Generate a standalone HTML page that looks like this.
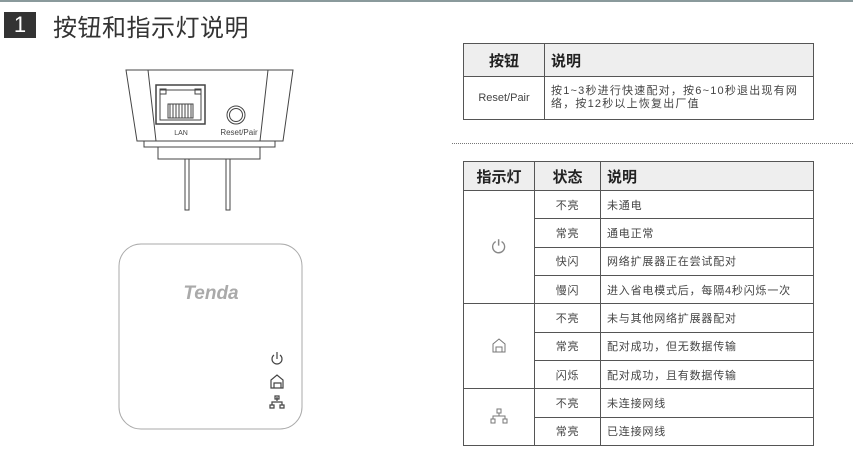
<!DOCTYPE html>
<html><head><meta charset="utf-8"><style>
body{margin:0;width:853px;height:456px;background:#fff;position:relative;overflow:hidden;font-family:"Liberation Sans","Noto Sans CJK SC",sans-serif;color:#333}
.a{position:absolute}
table{position:absolute;border-collapse:collapse;font-size:11px;color:#444;letter-spacing:0.8px}
td,th{border:1.5px solid #555;padding:0}
th{background:#eee;font-size:15px;font-weight:bold;color:#222;text-align:left;letter-spacing:0}
</style></head><body>
<div class="a" style="left:0;top:0;width:853px;height:2px;background:#8a9a9c"></div>
<div class="a" style="left:4px;top:12px;width:32px;height:26px;background:#333;color:#fff;font-size:22px;line-height:26px;text-align:center">1</div>
<div class="a" style="left:53px;top:8px;font-size:24px;color:#333;letter-spacing:0.5px">按钮和指示灯说明</div>

<svg class="a" style="left:0;top:0" width="460" height="456">
<g fill="none" stroke="#444" stroke-width="1">
<path d="M126 70 H293 L283 141 H137 Z"/>
<path d="M148 70 L156 141 M268 70 L260 141"/>
<rect x="156" y="85" width="49" height="39" stroke-width="1.5"/>
<rect x="160" y="90" width="41" height="30"/>
<rect x="160" y="89" width="6" height="5"/><rect x="195" y="89" width="6" height="5"/>
<rect x="168" y="104" width="25" height="14"/>
<path d="M170 104v14M173 104v14M176 104v14M179 104v14M182 104v14M185 104v14M188 104v14M191 104v14"/>
<circle cx="236" cy="115" r="9"/><circle cx="236" cy="115" r="6.5"/>
<rect x="144" y="141" width="131" height="6"/>
<rect x="158" y="147" width="102" height="12"/>
<rect x="185" y="159" width="4" height="51"/><rect x="226" y="159" width="4" height="51"/>
<rect x="119" y="244" width="183" height="185" rx="22" stroke="#aaa"/>
</g>
<text x="181" y="135" font-size="7" text-anchor="middle" fill="#444">LAN</text>
<text x="239" y="135" font-size="8" text-anchor="middle" fill="#444">Reset/Pair</text>
<text x="211" y="299" font-size="19" font-weight="bold" font-style="italic" text-anchor="middle" fill="#aaa">Tenda</text>
<g fill="none" stroke="#444" stroke-width="1.2">
<path d="M274 355 a5 5 0 1 0 6 0 M277 352 v7"/>
<path d="M271 388 v-8 l6-5 6 5 v8 Z M274 388 v-5 h7 v5"/>
<path d="M277 397 v4 M272 405 v-3 h10 v3 M270 405h4v3h-4z M280 405h4v3h-4z M275 396h4v3h-4z"/>
</g>
</svg>

<table style="left:463px;top:43px;width:351px;height:77px">
<tr style="height:33px"><th style="width:80px;text-align:center">按钮</th><th style="padding-left:6px">说明</th></tr>
<tr><td style="text-align:center;font-size:11px;letter-spacing:0">Reset/Pair</td><td style="padding-left:6px;line-height:13px;letter-spacing:1.2px">按1~3秒进行快速配对，按6~10秒退出现有网络，按12秒以上恢复出厂值</td></tr>
</table>
<div class="a" style="left:452px;top:143px;width:401px;border-top:1.5px dotted #777"></div>

<table style="left:463px;top:161px;width:351px;height:285px">
<tr style="height:29px"><th style="width:70px;text-align:center">指示灯</th><th style="width:65px;text-align:center">状态</th><th style="padding-left:6px">说明</th></tr>
<tr><td rowspan="4" style="text-align:center;color:#888;font-size:18px">⏻</td><td style="text-align:center">不亮</td><td style="padding-left:6px">未通电</td></tr>
<tr><td style="text-align:center">常亮</td><td style="padding-left:6px">通电正常</td></tr>
<tr><td style="text-align:center">快闪</td><td style="padding-left:6px">网络扩展器正在尝试配对</td></tr>
<tr><td style="text-align:center">慢闪</td><td style="padding-left:6px">进入省电模式后，每隔4秒闪烁一次</td></tr>
<tr><td rowspan="3" style="text-align:center"><svg width="16" height="16"><path d="M2 15v-8l6-5 6 5v8z M5 15v-5h6v5" fill="none" stroke="#777"/></svg></td><td style="text-align:center">不亮</td><td style="padding-left:6px">未与其他网络扩展器配对</td></tr>
<tr><td style="text-align:center">常亮</td><td style="padding-left:6px">配对成功，但无数据传输</td></tr>
<tr><td style="text-align:center">闪烁</td><td style="padding-left:6px">配对成功，且有数据传输</td></tr>
<tr><td rowspan="2" style="text-align:center"><svg width="18" height="16"><path d="M7 1h4v4h-4z M9 5v3 M3 11v-3h12v3 M1 11h4v4h-4z M13 11h4v4h-4z" fill="none" stroke="#777"/></svg></td><td style="text-align:center">不亮</td><td style="padding-left:6px">未连接网线</td></tr>
<tr><td style="text-align:center">常亮</td><td style="padding-left:6px">已连接网线</td></tr>
</table>
</body></html>
